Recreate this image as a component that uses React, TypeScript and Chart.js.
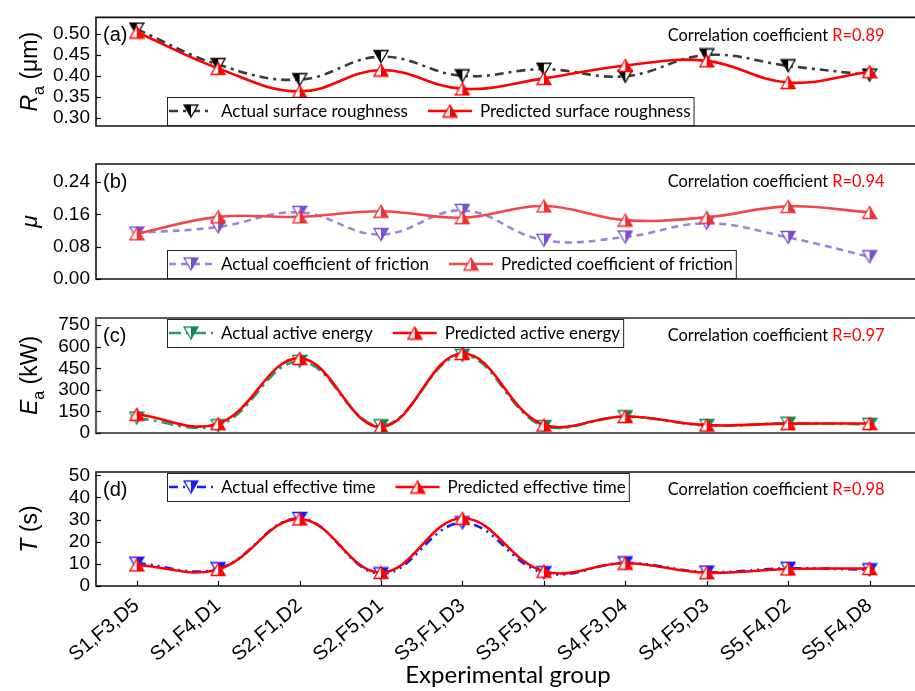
import React, { useEffect, useRef } from 'react';
import { Chart, registerables } from 'chart.js';

Chart.register(...registerables);

// ---------- data ----------
const categories = ['S1,F3,D5', 'S1,F4,D1', 'S2,F1,D2', 'S2,F5,D1', 'S3,F1,D3', 'S3,F5,D1', 'S4,F3,D4', 'S4,F5,D3', 'S5,F4,D2', 'S5,F4,D8'];

const raActual = [0.512, 0.427, 0.391, 0.446, 0.400, 0.416, 0.399, 0.450, 0.424, 0.402];
const raPredicted = [0.505, 0.418, 0.363, 0.414, 0.369, 0.394, 0.425, 0.436, 0.384, 0.410];
const raTicks = [0.3, 0.35, 0.4, 0.45, 0.5];

const muActual = [0.114, 0.129, 0.165, 0.110, 0.170, 0.096, 0.104, 0.138, 0.103, 0.055];
const muPredicted = [0.112, 0.154, 0.154, 0.168, 0.152, 0.181, 0.146, 0.153, 0.180, 0.165];
const muTicks = [0, 0.08, 0.16, 0.24];

const eaActual = [104, 50, 498, 50, 540, 45, 113, 52, 68, 60];
const eaPredicted = [130, 65, 519, 42, 553, 55, 115, 55, 65, 66];
const eaTicks = [0, 150, 300, 450, 600, 750];

const tActual = [10.3, 7.8, 30.5, 5.5, 28.5, 6.0, 10.4, 6.3, 8.0, 7.3];
const tPredicted = [9.5, 7.5, 30.3, 6.1, 30.6, 6.7, 10.3, 6.0, 7.7, 7.9];
const tTicks = [0, 10, 20, 30, 40, 50];

const xTitle = 'Experimental group';

// ---------- layout / style ----------
const W = 915;
const H = 691;
const PLOT_LEFT = 96;
const TICK_FONT = '"Liberation Sans", Arial, sans-serif';
const TEXT_FONT = 'Lato, "Open Sans", sans-serif';

type Seg = { t: string; it?: boolean; sub?: boolean };
type Series = { label: string; data: number[]; line: string; marker: string; dash: number[]; dir: 'up' | 'down'; half: 'left' | 'right' };
type PanelCfg = {
  key: string; top: number; bottom: number; min: number; max: number; ticks: number[]; dec: number;
  tag: string; r: string; title: Seg[]; legendTop: number; frame: string; frameW: number;
  actual: Series; predicted: Series;
};

const panels: PanelCfg[] = [
  {
    key: 'a', top: 11, bottom: 126, min: 0.28, max: 0.54, ticks: raTicks, dec: 2, tag: '(a)', r: 'R=0.89',
    title: [{ t: 'R', it: true }, { t: 'a', sub: true }, { t: ' (μm)' }], legendTop: 97, frame: '#111', frameW: 1.6,
    actual: { label: 'Actual surface roughness', data: raActual, line: '#3a3a3a', marker: '#000000', dash: [9, 5, 3, 5], dir: 'down', half: 'left' },
    predicted: { label: 'Predicted surface roughness', data: raPredicted, line: '#ff0000', marker: '#ff0000', dash: [], dir: 'up', half: 'right' },
  },
  {
    key: 'b', top: 164, bottom: 279, min: 0, max: 0.285, ticks: muTicks, dec: 2, tag: '(b)', r: 'R=0.94',
    title: [{ t: 'μ', it: true }], legendTop: 250, frame: '#111', frameW: 1.6,
    actual: { label: 'Actual coefficient of friction', data: muActual, line: '#9c84dc', marker: '#7a4fd0', dash: [7, 5], dir: 'down', half: 'right' },
    predicted: { label: 'Predicted coefficient of friction', data: muPredicted, line: '#f04848', marker: '#ee3030', dash: [], dir: 'up', half: 'right' },
  },
  {
    key: 'c', top: 318, bottom: 433, min: 0, max: 800, ticks: eaTicks, dec: 0, tag: '(c)', r: 'R=0.97',
    title: [{ t: 'E', it: true }, { t: 'a', sub: true }, { t: ' (kW)' }], legendTop: 319, frame: '#5c5c5c', frameW: 2.2,
    actual: { label: 'Actual active energy', data: eaActual, line: '#2a9a72', marker: '#17845c', dash: [12, 5, 3, 5], dir: 'down', half: 'right' },
    predicted: { label: 'Predicted active energy', data: eaPredicted, line: '#ff0000', marker: '#ff0000', dash: [], dir: 'up', half: 'right' },
  },
  {
    key: 'd', top: 472, bottom: 586, min: 0, max: 51.5, ticks: tTicks, dec: 0, tag: '(d)', r: 'R=0.98',
    title: [{ t: 'T', it: true }, { t: ' (s)' }], legendTop: 473, frame: '#111', frameW: 1.6,
    actual: { label: 'Actual effective time', data: tActual, line: '#1a1aff', marker: '#1a1aff', dash: [9, 5, 2, 5, 2, 5], dir: 'down', half: 'right' },
    predicted: { label: 'Predicted effective time', data: tPredicted, line: '#ff0000', marker: '#ff0000', dash: [], dir: 'up', half: 'right' },
  },
];

function makeTriangle(dir: 'up' | 'down', color: string, half: 'left' | 'right'): HTMLCanvasElement {
  const w = 16;
  const h = 15;
  const c = document.createElement('canvas');
  c.width = w;
  c.height = h;
  const g = c.getContext('2d')!;
  const path = new Path2D();
  if (dir === 'up') {
    path.moveTo(1, h - 1.5); path.lineTo(w / 2, 1.5); path.lineTo(w - 1, h - 1.5);
  } else {
    path.moveTo(1, 1.5); path.lineTo(w / 2, h - 1.5); path.lineTo(w - 1, 1.5);
  }
  path.closePath();
  g.fillStyle = '#ffffff';
  g.fill(path);
  g.save();
  g.beginPath();
  if (half === 'left') g.rect(0, 0, w / 2, h); else g.rect(w / 2, 0, w / 2, h);
  g.clip();
  g.fillStyle = color;
  g.fill(path);
  g.restore();
  g.strokeStyle = color;
  g.lineWidth = 1.3;
  g.stroke(path);
  return c;
}

function drawRich(ctx: CanvasRenderingContext2D, segs: Seg[], cx: number, cy: number, size: number) {
  const fontOf = (s: Seg) => `${s.it ? 'italic ' : ''}${s.sub ? Math.round(size * 0.7) : size}px ${TICK_FONT}`;
  let total = 0;
  for (const s of segs) { ctx.font = fontOf(s); total += ctx.measureText(s.t).width; }
  ctx.save();
  ctx.translate(cx, cy);
  ctx.rotate(-Math.PI / 2);
  ctx.textBaseline = 'alphabetic';
  ctx.textAlign = 'left';
  ctx.fillStyle = '#000';
  let x = -total / 2;
  const base = size * 0.36;
  for (const s of segs) {
    ctx.font = fontOf(s);
    ctx.fillText(s.t, x, base + (s.sub ? size * 0.28 : 0));
    x += ctx.measureText(s.t).width;
  }
  ctx.restore();
}

function panelPlugin(p: PanelCfg, showX: boolean, imgs: HTMLCanvasElement[]) {
  return {
    id: 'panel_' + p.key,
    afterDraw(chart: any) {
      const { ctx, chartArea: a, scales } = chart;
      const ys = scales.y;
      const xs = scales.x;
      ctx.save();
      // frame (right edge lies outside the picture)
      ctx.strokeStyle = p.frame;
      ctx.lineWidth = p.frameW;
      ctx.beginPath();
      ctx.moveTo(a.right + 10, a.top);
      ctx.lineTo(a.left, a.top);
      ctx.lineTo(a.left, a.bottom);
      ctx.lineTo(a.right + 10, a.bottom);
      ctx.stroke();
      // inward tick marks
      ctx.strokeStyle = '#000';
      ctx.lineWidth = 1.2;
      for (const t of ys.ticks) {
        const py = Math.round(ys.getPixelForValue(t.value)) + 0.5;
        ctx.beginPath(); ctx.moveTo(a.left, py); ctx.lineTo(a.left + 5, py); ctx.stroke();
      }
      if (showX) {
        for (const t of xs.ticks) {
          const px = Math.round(xs.getPixelForValue(t.value)) + 0.5;
          ctx.beginPath(); ctx.moveTo(px, a.bottom); ctx.lineTo(px, a.bottom - 5); ctx.stroke();
        }
      }
      // panel tag
      ctx.fillStyle = '#000';
      ctx.textBaseline = 'middle';
      ctx.textAlign = 'left';
      ctx.font = `20px ${TICK_FONT}`;
      ctx.fillText(p.tag, a.left + 7, a.top + 18);
      // correlation text
      ctx.font = `16.4px ${TEXT_FONT}`;
      const prefix = 'Correlation coefficient ';
      const rw = ctx.measureText(p.r).width;
      const pw = ctx.measureText(prefix).width;
      const rx = a.right - 21;
      ctx.fillStyle = '#ff0000';
      ctx.fillText(p.r, rx - rw, a.top + 18);
      ctx.fillStyle = '#000';
      ctx.fillText(prefix, rx - rw - pw, a.top + 18);
      // y title
      drawRich(ctx, p.title, 29, (a.top + a.bottom) / 2, 23);
      // legend
      const series = [p.actual, p.predicted];
      const ds = chart.data.datasets;
      ctx.font = `17px ${TEXT_FONT}`;
      const lx = a.left + 71;
      const ly = p.legendTop;
      const lh = 28;
      const sampleLen = 44;
      let sx = lx + 2;
      const pos: { sx: number; tx: number }[] = [];
      series.forEach((s) => {
        const tx = sx + sampleLen + 8;
        pos.push({ sx, tx });
        sx = tx + ctx.measureText(s.label).width + 20;
      });
      const boxW = sx - 20 + 3 - lx;
      ctx.fillStyle = '#fff';
      ctx.fillRect(lx, ly, boxW, lh);
      ctx.strokeStyle = '#222';
      ctx.lineWidth = 1;
      ctx.strokeRect(lx + 0.5, ly + 0.5, boxW, lh);
      const cy = ly + lh / 2;
      series.forEach((s, i) => {
        const { sx: x0, tx } = pos[i];
        ctx.save();
        ctx.strokeStyle = ds[i].borderColor;
        ctx.lineWidth = 2.5;
        ctx.setLineDash(s.dash);
        ctx.beginPath(); ctx.moveTo(x0, cy); ctx.lineTo(x0 + sampleLen, cy); ctx.stroke();
        ctx.restore();
        const img = imgs[i];
        ctx.drawImage(img, x0 + sampleLen / 2 - img.width / 2, cy - img.height / 2);
        ctx.fillStyle = '#000';
        ctx.textBaseline = 'middle';
        ctx.fillText(s.label, tx, cy + 1);
      });
      if (showX) {
        ctx.font = `24px ${TEXT_FONT}`;
        ctx.textAlign = 'center';
        ctx.fillStyle = '#000';
        ctx.fillText(xTitle, 508, 675);
      }
      ctx.restore();
    },
  };
}

function Panel({ cfg, showX }: { cfg: PanelCfg; showX: boolean }) {
  const ref = useRef<HTMLCanvasElement>(null);
  useEffect(() => {
    const imgA = makeTriangle(cfg.actual.dir, cfg.actual.marker, cfg.actual.half);
    const imgP = makeTriangle(cfg.predicted.dir, cfg.predicted.marker, cfg.predicted.half);
    const mk = (s: Series, img: HTMLCanvasElement, order: number) => ({
      label: s.label,
      data: s.data.map((v, i) => ({ x: i, y: v })),
      borderColor: s.line,
      backgroundColor: s.line,
      borderWidth: 2.6,
      borderDash: s.dash,
      pointStyle: img,
      pointRadius: 7,
      tension: 0.4,
      fill: false,
      order,
      clip: false as any,
    });
    const xScale: any = {
      type: 'linear',
      min: -0.5,
      max: 9.44,
      display: showX,
      afterBuildTicks: (s: any) => { s.ticks = categories.map((_, i) => ({ value: i })); },
      grid: { display: false, drawTicks: false },
      border: { display: false },
      ticks: {
        autoSkip: false,
        maxRotation: 40,
        minRotation: 40,
        padding: 8,
        color: '#000',
        font: { family: TICK_FONT, size: 20 },
        callback: (v: any) => categories[Math.round(Number(v))] ?? '',
      },
    };
    if (showX) xScale.afterFit = (s: any) => { s.height = H - cfg.bottom; };
    const chart = new Chart(ref.current!, {
      type: 'line',
      data: { datasets: [mk(cfg.actual, imgA, 1), mk(cfg.predicted, imgP, 0)] as any },
      options: {
        responsive: false,
        animation: false,
        devicePixelRatio: 1,
        events: [],
        layout: { padding: { top: cfg.top, bottom: showX ? 0 : H - cfg.bottom, left: 0, right: 0 } },
        plugins: { legend: { display: false }, tooltip: { enabled: false }, title: { display: false } },
        scales: {
          x: xScale,
          y: {
            type: 'linear',
            min: cfg.min,
            max: cfg.max,
            afterBuildTicks: (s: any) => { s.ticks = cfg.ticks.map((v) => ({ value: v })); },
            afterFit: (s: any) => { s.width = PLOT_LEFT; },
            grid: { display: false, drawTicks: false },
            border: { display: false },
            ticks: {
              autoSkip: false,
              padding: 6,
              color: '#000',
              font: { family: TICK_FONT, size: 19 },
              callback: (v: any) => Number(v).toFixed(cfg.dec),
            },
          } as any,
        },
      },
      plugins: [panelPlugin(cfg, showX, [imgA, imgP])],
    });
    return () => chart.destroy();
  }, [cfg, showX]);
  return (
    <canvas
      ref={ref}
      width={W}
      height={H}
      style={{ position: 'absolute', left: 0, top: 0, width: W, height: H }}
    />
  );
}

export default function App() {
  return (
    <div style={{ position: 'absolute', left: 0, top: 0, width: W, height: H, background: '#fff', overflow: 'hidden' }}>
      {panels.map((p, i) => (
        <Panel key={p.key} cfg={p} showX={i === panels.length - 1} />
      ))}
    </div>
  );
}
